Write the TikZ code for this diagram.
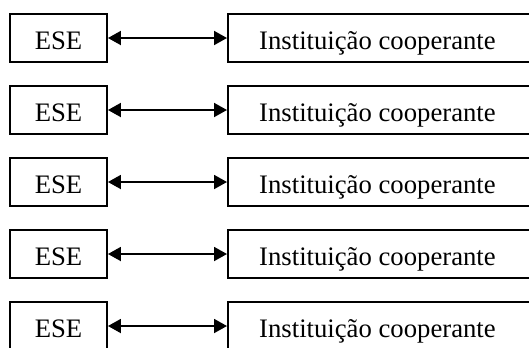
\documentclass[tikz,border=0pt]{standalone}
\usepackage{fontspec}
\setmainfont{Liberation Serif}
\usetikzlibrary{arrows.meta}
\begin{document}
\begin{tikzpicture}[x=1bp,y=-1bp,
  box/.style={draw, line width=1.9bp, rectangle, inner sep=0pt, minimum height=48bp,
    text height=23bp, text depth=0bp, font=\fontsize{26.7bp}{30bp}\selectfont},
  esebox/.style={box, minimum width=97bp},
  instbox/.style={box, minimum width=304bp, anchor=west},
  link/.style={line width=1.9bp, {Triangle[length=13bp,width=14bp]}-{Triangle[length=13bp,width=14bp]}}]
\useasboundingbox (0,0) rectangle (529,347);
\foreach \i in {1,...,5}{
  \pgfmathsetmacro{\yy}{38+72*(\i-1)}
  \node[esebox] (e\i) at (58.5,\yy) {ESE};
  \node[instbox] (c\i) at (227,\yy) {\hspace*{-5bp}Instituição cooperante};
  \draw[link] (e\i) -- (c\i);
}
\end{tikzpicture}
\end{document}
